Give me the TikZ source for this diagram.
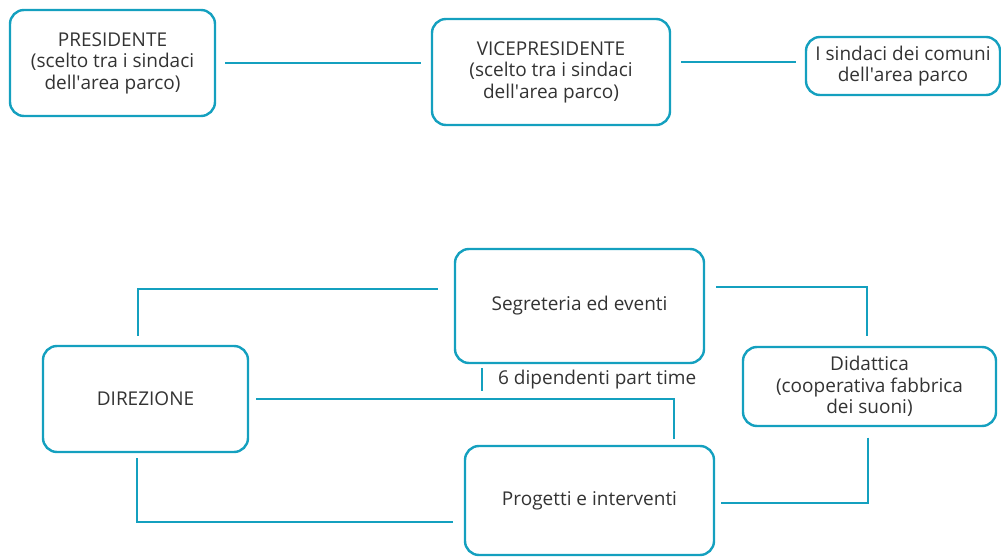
\documentclass[tikz,border=0pt]{standalone}
\usepackage{fontspec}
\setmainfont{Open Sans}
\definecolor{teal}{HTML}{14A0BF}
\definecolor{ink}{HTML}{333333}
\newcommand{\ap}{\textquotesingle}
\tikzset{
  box/.style={rectangle,draw=teal,line width=2.4pt,rounded corners=14pt,
    text=ink,align=center,inner sep=0pt,
    font=\fontsize{19}{21.5}\selectfont},
  link/.style={draw=teal,line width=2.8pt}
}
\begin{document}
\begin{tikzpicture}[x=1pt,y=1pt]
          \useasboundingbox (0,0) rectangle (1001,557);
          % vertici
          \node[box,minimum width=205,minimum height=106] (pres) at (112.5,494) {PRESIDENTE\\(scelto tra i sindaci\\dell\ap area parco)};
          \node[box,minimum width=238,minimum height=106] (vice) at (551,485) {VICEPRESIDENTE\\(scelto tra i sindaci\\dell\ap area parco)};
          \node[box,minimum width=194,minimum height=58] (sind) at (903,491) {I sindaci dei comuni\\dell\ap area parco};
          % struttura
          \node[box,minimum width=205,minimum height=106] (dir) at (145.5,158) {DIREZIONE};
          \node[box,minimum width=249,minimum height=114] (seg) at (579.5,251) {Segreteria ed eventi};
          \node[box,minimum width=253,minimum height=79] (did) at (869.5,170.5) {Didattica\\(cooperativa fabbrica\\dei suoni)};
          \node[box,minimum width=249,minimum height=109] (prog) at (589.5,56.5) {Progetti e interventi};
          \node[text=ink,font=\fontsize{19}{21.5}\selectfont,anchor=west,inner sep=0pt] (dip) at (498,177) {6 dipendenti part time};
          \draw[link] ([xshift=9]pres.east) -- ([xshift=-10,yshift=9]vice.west);
          \draw[link] ([xshift=10,yshift=10]vice.east) -- ([xshift=-9,yshift=4]sind.west);
          \draw[link] ([xshift=-7.5,yshift=9]dir.north) |- ([xshift=-16,yshift=17]seg.west);
          \draw[link] ([xshift=7]dir.east) -| ([xshift=84.5,yshift=5.5]prog.north);
          \draw[link] ([xshift=-8.5,yshift=-5]dir.south) |- ([xshift=-11,yshift=-21.5]prog.west);
          \draw[link] ([xshift=11,yshift=19]seg.east) -| ([xshift=-2.5,yshift=9.5]did.north);
          \draw[link] ([xshift=-1.5,yshift=-10.5]did.south) |- ([xshift=6,yshift=-2.5]prog.east);
          \draw[link] ([xshift=-16,yshift=12]dip.west) -- ([xshift=-16,yshift=-11]dip.west);
\end{tikzpicture}
\end{document}
